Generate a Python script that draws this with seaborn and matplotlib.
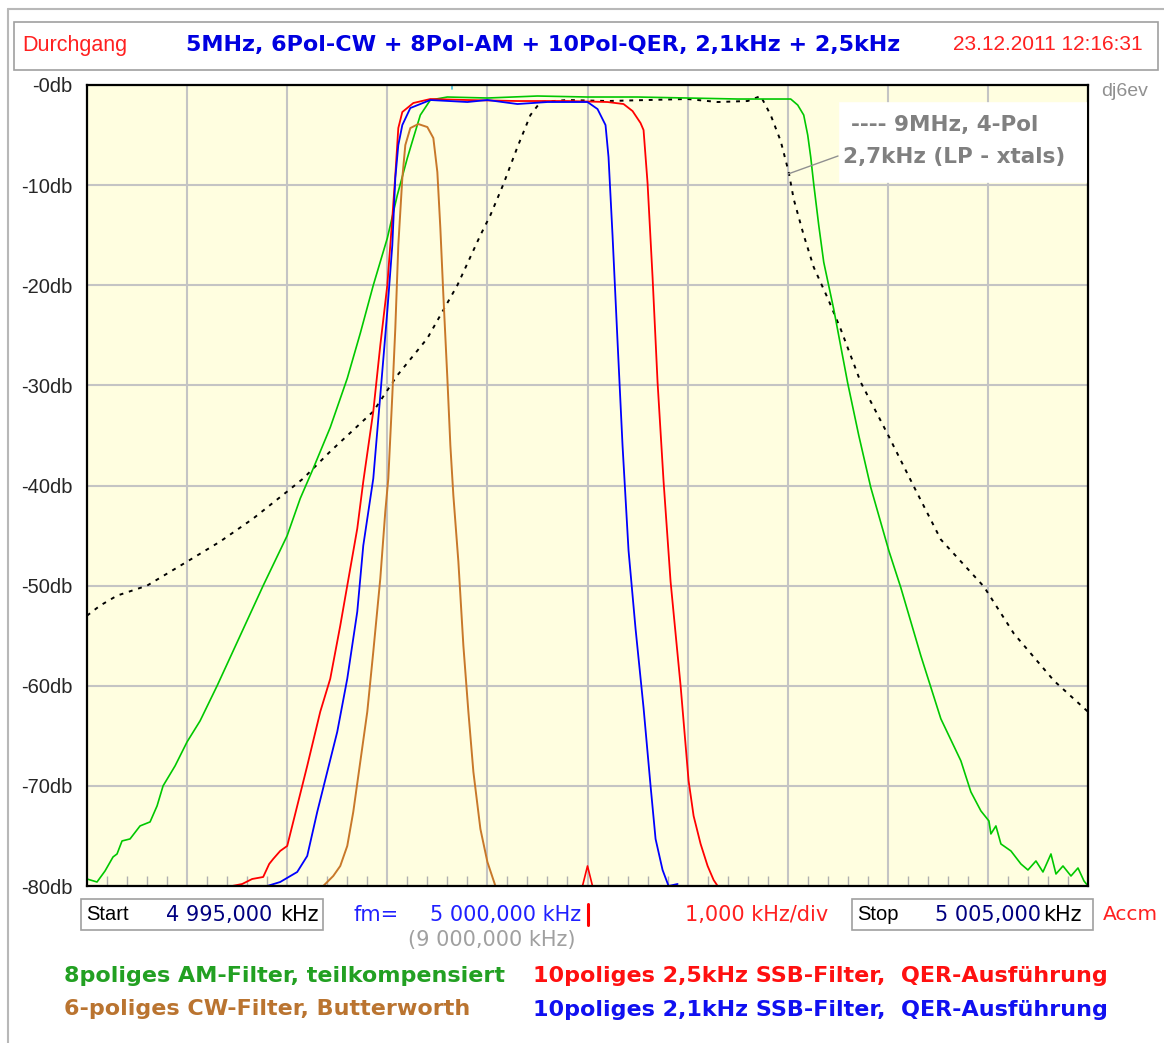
import numpy as np
import matplotlib
matplotlib.use("Agg")
import matplotlib.pyplot as plt
import seaborn as sns
from matplotlib.patches import Rectangle
from matplotlib.lines import Line2D

am_freq = [4995.00, 4995.10, 4995.18, 4995.26, 4995.30, 4995.35, 4995.43, 4995.53, 4995.63,
           4995.70, 4995.76, 4995.88, 4996.00, 4996.13, 4996.30, 4996.53, 4996.76, 4997.00,
           4997.13, 4997.26, 4997.43, 4997.60, 4997.73, 4997.86, 4998.00, 4998.10, 4998.20,
           4998.26, 4998.33, 4998.43, 4998.60, 4999.00, 4999.50, 5000.00, 5000.50, 5001.00,
           5001.50, 5002.00, 5002.03, 5002.10, 5002.16, 5002.20, 5002.23, 5002.26, 5002.31,
           5002.36, 5002.46, 5002.60, 5002.71, 5002.83, 5003.01, 5003.13, 5003.33, 5003.53,
           5003.73, 5003.83, 5003.93, 5004.01, 5004.03, 5004.08, 5004.13, 5004.23, 5004.33,
           5004.40, 5004.48, 5004.55, 5004.63, 5004.68, 5004.75, 5004.83, 5004.90, 5004.96,
           5005.00]
am_db = [-79.3, -79.6, -78.5, -77.1, -76.8, -75.5, -75.3, -74.0, -73.6,
         -72.0, -70.0, -68.0, -65.6, -63.5, -60.0, -55.0, -50.0, -45.0,
         -41.3, -38.3, -34.2, -29.3, -24.8, -20.0, -15.3, -11.0, -7.3,
         -5.3, -3.0, -1.5, -1.2, -1.3, -1.1, -1.2, -1.2, -1.3,
         -1.4, -1.4, -1.4, -2.0, -3.0, -5.0, -7.2, -9.9, -14.0,
         -17.7, -22.4, -29.8, -35.0, -40.2, -46.5, -50.2, -57.0, -63.3,
         -67.5, -70.6, -72.5, -73.5, -74.8, -74.0, -75.8, -76.5, -77.8,
         -78.4, -77.5, -78.6, -76.8, -78.8, -78.0, -79.0, -78.2, -79.5,
         -80.0]

ssb25_freq = [4996.45, 4996.55, 4996.65, 4996.76, 4996.82, 4996.86, 4996.93, 4997.00, 4997.10,
              4997.20, 4997.33, 4997.43, 4997.53, 4997.60, 4997.70, 4997.76, 4997.86, 4997.93,
              4998.00, 4998.05, 4998.08, 4998.11, 4998.15, 4998.26, 4998.43, 4998.80, 4999.30,
              4999.80, 5000.20, 5000.36, 5000.45, 5000.53, 5000.56, 5000.60, 5000.65, 5000.70,
              5000.76, 5000.83, 5000.93, 5001.01, 5001.06, 5001.13, 5001.20, 5001.26, 5001.30]
ssb25_db = [-80.0, -79.8, -79.3, -79.1, -77.8, -77.3, -76.5, -76.0, -72.0,
            -68.0, -62.6, -59.3, -54.0, -50.0, -44.3, -39.6, -32.6, -26.0,
            -20.0, -13.3, -9.0, -4.3, -2.7, -1.8, -1.4, -1.5, -1.6,
            -1.6, -1.7, -1.9, -2.6, -3.8, -4.5, -9.8, -19.2, -29.7,
            -39.6, -49.6, -60.0, -69.5, -73.0, -75.8, -78.0, -79.4, -80.0]

ssb21_freq = [4996.80, 4996.93, 4997.10, 4997.20, 4997.30, 4997.40, 4997.50, 4997.60, 4997.70,
              4997.76, 4997.86, 4997.93, 4998.00, 4998.05, 4998.08, 4998.11, 4998.15, 4998.23,
              4998.43, 4998.80, 4999.00, 4999.30, 4999.60, 5000.00, 5000.10, 5000.18, 5000.21,
              5000.25, 5000.30, 5000.35, 5000.41, 5000.48, 5000.56, 5000.63, 5000.68, 5000.75,
              5000.81, 5000.90]
ssb21_db = [-80.0, -79.6, -78.6, -77.0, -72.6, -68.6, -64.6, -59.3, -52.6,
            -46.0, -39.3, -31.0, -22.6, -16.0, -9.3, -6.0, -4.0, -2.3,
            -1.5, -1.7, -1.5, -1.9, -1.7, -1.7, -2.4, -4.0, -7.2,
            -15.0, -25.6, -36.0, -46.5, -54.3, -62.2, -70.0, -75.3, -78.4,
            -80.0, -79.8]

cw_freq = [4997.36, 4997.46, 4997.53, 4997.60, 4997.66, 4997.73, 4997.80, 4997.86, 4997.93,
           4997.98, 4998.01, 4998.05, 4998.08, 4998.11, 4998.15, 4998.18, 4998.23, 4998.31,
           4998.40, 4998.46, 4998.50, 4998.53, 4998.56, 4998.60, 4998.63, 4998.66, 4998.71,
           4998.76, 4998.81, 4998.86, 4998.93, 4999.00, 4999.08]
cw_db = [-80.0, -79.0, -78.0, -76.0, -72.6, -67.6, -62.6, -56.6, -49.3,
         -42.6, -39.3, -31.0, -24.3, -16.0, -9.3, -6.0, -4.3, -3.9,
         -4.2, -5.3, -8.7, -14.3, -21.0, -29.3, -36.0, -41.0, -47.6,
         -56.0, -62.6, -68.6, -74.3, -77.6, -80.0]

lp9_freq = [4995.00, 4995.13, 4995.30, 4995.60, 4996.00, 4996.33, 4996.66, 4997.00, 4997.16,
            4997.43, 4997.86, 4998.10, 4998.40, 4998.70, 4998.93, 4999.03, 4999.16, 4999.30,
            4999.43, 4999.53, 4999.80, 5000.20, 5000.60, 5001.00, 5001.30, 5001.60, 5001.73,
            5001.83, 5001.93, 5002.01, 5002.06, 5002.16, 5002.26, 5002.40, 5002.53, 5002.73,
            5003.00, 5003.26, 5003.53, 5003.96, 5004.26, 5004.66, 5005.00]
lp9_db = [-53.0, -52.0, -51.0, -50.0, -47.6, -45.6, -43.3, -40.6, -39.3,
          -36.6, -32.6, -29.0, -25.3, -20.0, -15.0, -13.0, -9.9, -6.2,
          -3.0, -1.7, -1.5, -1.6, -1.5, -1.4, -1.7, -1.6, -1.1,
          -3.0, -5.6, -8.7, -11.4, -15.0, -18.2, -21.3, -24.4, -29.7,
          -34.9, -40.1, -45.4, -50.1, -54.8, -59.5, -62.6]

marker_freq = [4999.95, 5000.00, 5000.05]
marker_db = [-80.0, -78.0, -80.0]
cursor_freq = 4998.65

y_ticks = [0, -10, -20, -30, -40, -50, -60, -70, -80]
y_labels = ["-0db", "-10db", "-20db", "-30db", "-40db", "-50db", "-60db", "-70db", "-80db"]

W, H = 1164, 1043
NARROW = ['Liberation Sans', 'DejaVu Sans']
WIDE = ['DejaVu Sans']


def fx(x):
    return x / W


def fy(y):
    return 1 - y / H


sns.set_style("white")
plt.rcParams['font.family'] = NARROW

fig = plt.figure(figsize=(W / 100, H / 100), dpi=100)
fig.patch.set_facecolor("white")

# Plotbereich
ax = fig.add_axes([fx(87), fy(886), (1088 - 87) / W, (886 - 85) / H])
ax.set_facecolor("#FFFEE0")

sns.lineplot(x=lp9_freq, y=lp9_db, ax=ax, color="black", linewidth=1.4,
             linestyle=(0, (2, 3)), estimator=None, sort=False)
sns.lineplot(x=am_freq, y=am_db, ax=ax, color="#00C800", linewidth=1.2,
             estimator=None, sort=False)
sns.lineplot(x=cw_freq, y=cw_db, ax=ax, color="#C8782A", linewidth=1.4,
             estimator=None, sort=False)
sns.lineplot(x=ssb25_freq, y=ssb25_db, ax=ax, color="#FF0000", linewidth=1.3,
             estimator=None, sort=False)
sns.lineplot(x=ssb21_freq, y=ssb21_db, ax=ax, color="#0000FF", linewidth=1.3,
             estimator=None, sort=False)
sns.lineplot(x=marker_freq, y=marker_db, ax=ax, color="#FF0000", linewidth=1.2,
             estimator=None, sort=False)
ax.axvline(cursor_freq, ymin=0.995, ymax=1.0, color="#40C0E0", lw=1.2)

ax.set_xlim(4995, 5005)
ax.set_ylim(-80, 0)
ax.set_xticks(np.arange(4996, 5005, 1))
ax.set_xticklabels([])
minor = [v for v in np.round(np.arange(4995.2, 5005, 0.2), 1) if abs(v - round(v)) > 0.01]
ax.set_xticks(minor, minor=True)
ax.set_yticks(y_ticks)
ax.set_yticklabels(y_labels, fontsize=14.5)
ax.tick_params(axis="x", which="major", length=0)
ax.tick_params(axis="x", which="minor", direction="in", length=7.5, width=1, color="#b0b0b0",
               bottom=True)
ax.tick_params(axis="y", length=0, pad=10.5)
ax.grid(True, which="major", color="#c4c4c4", linewidth=1.5)
ax.set_axisbelow(True)
for s in ax.spines.values():
    s.set_color("black")
    s.set_linewidth(1.6)
ax.set_xlabel("")
ax.set_ylabel("")

# Rahmen
fig.add_artist(Line2D([fx(8), fx(1164)], [fy(9), fy(9)], transform=fig.transFigure,
                      color="#b8b8b8", lw=1.5))
fig.add_artist(Line2D([fx(8), fx(8)], [fy(9), fy(1043)], transform=fig.transFigure,
                      color="#b8b8b8", lw=1.5))


def box(x0, y0, x1, y1, fc="white", ec="#a0a0a0", lw=1.2, z=5):
    fig.add_artist(Rectangle((fx(x0), fy(y1)), (x1 - x0) / W, (y1 - y0) / H,
                             transform=fig.transFigure, facecolor=fc, edgecolor=ec,
                             lw=lw, zorder=z))


def txt(x, y, s, color="black", size=14, ha="left", weight="normal", fam=NARROW, z=6):
    fig.text(fx(x), fy(y), s, color=color, fontsize=size, ha=ha, va="center",
             fontweight=weight, family=fam, zorder=z)


# Kopfzeile
box(14, 22, 1158, 70)
txt(22, 45, "Durchgang", color="#FF2020", size=15.5)
txt(543, 45, "5MHz, 6Pol-CW + 8Pol-AM + 10Pol-QER, 2,1kHz + 2,5kHz", color="#0000E0",
    size=16, ha="center", weight="bold", fam=WIDE)
txt(1143, 45, "23.12.2011 12:16:31", color="#FF2020", size=15, ha="right")
txt(1101, 92, "dj6ev", color="#909090", size=14)

# Beschriftung im Diagramm
box(840, 103, 1086, 182, ec="white", z=5)
fig.add_artist(Line2D([fx(788), fx(838)], [fy(174), fy(156)], transform=fig.transFigure,
                      color="#909090", lw=1, zorder=6))
txt(851, 125, "---- 9MHz, 4-Pol", color="#808080", size=15.5, weight="bold", fam=WIDE)
txt(843, 157, "2,7kHz (LP - xtals)", color="#808080", size=15.5, weight="bold", fam=WIDE)

# Frequenzzeile
box(81, 899, 323, 930)
txt(86, 915, "Start", size=14.5)
txt(272, 915, "4 995,000", color="#000080", size=15, ha="right", fam=WIDE)
txt(280, 915, "kHz", size=15, fam=WIDE)
txt(354, 915, "fm=", color="#2020FF", size=15, fam=WIDE)
txt(581, 915, "5 000,000 kHz", color="#2020FF", size=15, ha="right", fam=WIDE)
fig.add_artist(Line2D([fx(588), fx(588)], [fy(904), fy(925)], transform=fig.transFigure,
                      color="#FF0000", lw=2.2))
txt(408, 940, "(9 000,000 kHz)", color="#a0a0a0", size=15, fam=WIDE)
txt(828, 915, "1,000 kHz/div", color="#FF2020", size=15, ha="right", fam=WIDE)
box(852, 899, 1093, 930)
txt(857, 915, "Stop", size=14.5)
txt(1041, 915, "5 005,000", color="#000080", size=15, ha="right", fam=WIDE)
txt(1043, 915, "kHz", size=15, fam=WIDE)
txt(1103, 915, "Accm", color="#FF2020", size=14.5, fam=WIDE)

# Legende
txt(64, 976, "8poliges AM-Filter, teilkompensiert", color="#22A022", size=16, weight="bold",
    fam=WIDE)
txt(64, 1009, "6-poliges CW-Filter, Butterworth", color="#BA7430", size=16, weight="bold",
    fam=WIDE)
txt(533, 976, "10poliges 2,5kHz SSB-Filter,  QER-Ausführung", color="#FF1010", size=16,
    weight="bold", fam=WIDE)
txt(533, 1010, "10poliges 2,1kHz SSB-Filter,  QER-Ausführung", color="#1010F0", size=16,
    weight="bold", fam=WIDE)

fig.savefig("out.png", dpi=100)
